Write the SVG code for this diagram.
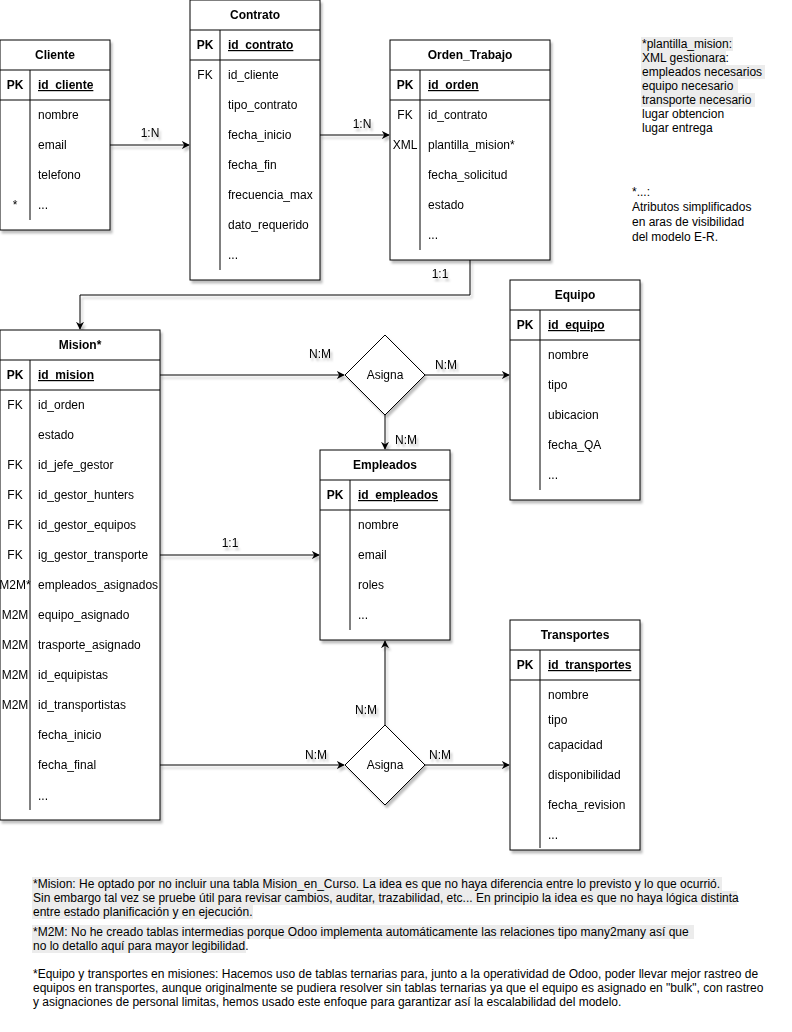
<svg xmlns="http://www.w3.org/2000/svg" width="792" height="1032" viewBox="0 0 792 1032">
<defs>
<filter id="sh" x="-10%" y="-10%" width="130%" height="130%">
<feDropShadow dx="2" dy="3" stdDeviation="1.2" flood-color="#000" flood-opacity="0.25"/>
</filter>
<marker id="arr" viewBox="0 0 10 10" refX="9" refY="5" markerWidth="8" markerHeight="8" markerUnits="userSpaceOnUse" orient="auto">
<path d="M0,0 L10,5 L0,10 L3,5 Z" fill="#000"/>
</marker>
</defs>
<style>
text{font-family:"Liberation Sans",Arial,sans-serif;font-size:12px;fill:#000}
.t{font-weight:bold;text-anchor:middle}
.k{text-anchor:middle}
.kb{text-anchor:middle;font-weight:bold}
.pk{font-weight:bold;text-decoration:underline}
.box{fill:#fff;stroke:#000;stroke-width:1}
.ln{stroke:#000;stroke-width:1;fill:none}
.c{stroke:#000;stroke-width:1;fill:none;marker-end:url(#arr)}
.lb{text-anchor:middle}
.hl{fill:#ececec}
</style>
<rect width="792" height="1032" fill="#fff"/>

<g id="connectors" filter="url(#sh)">
<path class="c" d="M110,145 H189"/>
<text class="lb" x="150" y="137">1:N</text>
<path class="c" d="M320,135 H389"/>
<text class="lb" x="362" y="128">1:N</text>
<path class="c" d="M470,260 V295 H80 V329"/>
<text class="lb" x="440" y="278">1:1</text>
<path class="c" d="M160,375 H344"/>
<text class="lb" x="320" y="358">N:M</text>
<path class="c" d="M425,375 H509"/>
<text class="lb" x="446" y="369">N:M</text>
<path class="c" d="M385,415 V449"/>
<text class="lb" x="406" y="444">N:M</text>
<path class="c" d="M160,555 H319"/>
<text class="lb" x="230" y="547">1:1</text>
<path class="c" d="M160,765 H344"/>
<text class="lb" x="316" y="759">N:M</text>
<path class="c" d="M425,765 H509"/>
<text class="lb" x="440" y="759">N:M</text>
<path class="c" d="M385,725 V641"/>
<text class="lb" x="366" y="714">N:M</text>
</g>

<g id="asigna1" filter="url(#sh)">
<path class="box" d="M385,335 L425,375 L385,415 L345,375 Z"/>
<text class="k" x="385" y="379">Asigna</text>
</g>
<g id="asigna2" filter="url(#sh)">
<path class="box" d="M385,725 L425,765 L385,805 L345,765 Z"/>
<text class="k" x="385" y="769">Asigna</text>
</g>

<g id="cliente" filter="url(#sh)">
<rect class="box" x="0" y="40" width="110" height="190"/>
<path class="ln" d="M0,70 H110 M0,100 H110 M30,70 V220"/>
<text class="t" x="55" y="59">Cliente</text>
<text class="kb" x="15" y="89">PK</text>
<text class="pk" x="38" y="89">id_cliente</text>
<text x="38" y="119">nombre</text>
<text x="38" y="149">email</text>
<text x="38" y="179">telefono</text>
<text class="k" x="15" y="209">*</text>
<text x="38" y="209">...</text>
</g>

<g id="contrato" filter="url(#sh)">
<rect class="box" x="190" y="0" width="130" height="280"/>
<path class="ln" d="M190,30 H320 M190,60 H320 M220,30 V270"/>
<text class="t" x="255" y="19">Contrato</text>
<text class="kb" x="205" y="49">PK</text>
<text class="pk" x="228" y="49">id_contrato</text>
<text class="k" x="205" y="79">FK</text>
<text x="228" y="79">id_cliente</text>
<text x="228" y="109">tipo_contrato</text>
<text x="228" y="139">fecha_inicio</text>
<text x="228" y="169">fecha_fin</text>
<text x="228" y="199">frecuencia_max</text>
<text x="228" y="229">dato_requerido</text>
<text x="228" y="259">...</text>
</g>

<g id="orden_trabajo" filter="url(#sh)">
<rect class="box" x="390" y="40" width="160" height="220"/>
<path class="ln" d="M390,70 H550 M390,100 H550 M420,70 V250"/>
<text class="t" x="470" y="59">Orden_Trabajo</text>
<text class="kb" x="405" y="89">PK</text>
<text class="pk" x="428" y="89">id_orden</text>
<text class="k" x="405" y="119">FK</text>
<text x="428" y="119">id_contrato</text>
<text class="k" x="405" y="149">XML</text>
<text x="428" y="149">plantilla_mision*</text>
<text x="428" y="179">fecha_solicitud</text>
<text x="428" y="209">estado</text>
<text x="428" y="239">...</text>
</g>

<g id="mision" filter="url(#sh)">
<rect class="box" x="0" y="330" width="160" height="490"/>
<path class="ln" d="M0,360 H160 M0,390 H160 M30,360 V810"/>
<text class="t" x="80" y="349">Mision*</text>
<text class="kb" x="15" y="379">PK</text>
<text class="pk" x="38" y="379">id_mision</text>
<text class="k" x="15" y="409">FK</text>
<text x="38" y="409">id_orden</text>
<text x="38" y="439">estado</text>
<text class="k" x="15" y="469">FK</text>
<text x="38" y="469">id_jefe_gestor</text>
<text class="k" x="15" y="499">FK</text>
<text x="38" y="499">id_gestor_hunters</text>
<text class="k" x="15" y="529">FK</text>
<text x="38" y="529">id_gestor_equipos</text>
<text class="k" x="15" y="559">FK</text>
<text x="38" y="559">ig_gestor_transporte</text>
<text class="k" x="15" y="589">M2M*</text>
<text x="38" y="589">empleados_asignados</text>
<text class="k" x="15" y="619">M2M</text>
<text x="38" y="619">equipo_asignado</text>
<text class="k" x="15" y="649">M2M</text>
<text x="38" y="649">trasporte_asignado</text>
<text class="k" x="15" y="679">M2M</text>
<text x="38" y="679">id_equipistas</text>
<text class="k" x="15" y="709">M2M</text>
<text x="38" y="709">id_transportistas</text>
<text x="38" y="739">fecha_inicio</text>
<text x="38" y="769">fecha_final</text>
<text x="38" y="800">...</text>
</g>

<g id="equipo" filter="url(#sh)">
<rect class="box" x="510" y="280" width="130" height="220"/>
<path class="ln" d="M510,310 H640 M510,340 H640 M540,310 V490"/>
<text class="t" x="575" y="299">Equipo</text>
<text class="kb" x="525" y="329">PK</text>
<text class="pk" x="548" y="329">id_equipo</text>
<text x="548" y="359">nombre</text>
<text x="548" y="389">tipo</text>
<text x="548" y="419">ubicacion</text>
<text x="548" y="449">fecha_QA</text>
<text x="548" y="479">...</text>
</g>

<g id="empleados" filter="url(#sh)">
<rect class="box" x="320" y="450" width="130" height="190"/>
<path class="ln" d="M320,480 H450 M320,510 H450 M350,480 V630"/>
<text class="t" x="385" y="469">Empleados</text>
<text class="kb" x="335" y="499">PK</text>
<text class="pk" x="358" y="499">id_empleados</text>
<text x="358" y="529">nombre</text>
<text x="358" y="559">email</text>
<text x="358" y="589">roles</text>
<text x="358" y="619">...</text>
</g>

<g id="transportes" filter="url(#sh)">
<rect class="box" x="510" y="620" width="130" height="230"/>
<path class="ln" d="M510,650 H640 M510,680 H640 M540,650 V848"/>
<text class="t" x="575" y="639">Transportes</text>
<text class="kb" x="525" y="669">PK</text>
<text class="pk" x="548" y="669">id_transportes</text>
<text x="548" y="699">nombre</text>
<text x="548" y="724">tipo</text>
<text x="548" y="749">capacidad</text>
<text x="548" y="779">disponibilidad</text>
<text x="548" y="809">fecha_revision</text>
<text x="548" y="839">...</text>
</g>

<g id="note_plantilla">
<rect class="hl" x="641" y="37" width="92" height="14"/>
<rect class="hl" x="641" y="51" width="85" height="14"/>
<rect class="hl" x="641" y="65" width="124" height="14"/>
<rect class="hl" x="641" y="79" width="97" height="14"/>
<rect class="hl" x="641" y="93" width="114" height="14"/>
<text x="642" y="48">*plantilla_mision:</text>
<text x="642" y="62">XML gestionara:</text>
<text x="642" y="76">empleados necesarios</text>
<text x="642" y="90">equipo necesario</text>
<text x="642" y="104">transporte necesario</text>
<text x="642" y="118">lugar obtencion</text>
<text x="642" y="132">lugar entrega</text>
</g>

<g id="note_atributos">
<text x="632" y="196">*...:</text>
<text x="632" y="211">Atributos simplificados</text>
<text x="632" y="226">en aras de visibilidad</text>
<text x="632" y="241">del modelo E-R.</text>
</g>

<g id="note_mision">
<rect class="hl" x="32" y="877" width="690" height="14"/>
<rect class="hl" x="32" y="891" width="705" height="14"/>
<rect class="hl" x="32" y="905" width="221" height="14"/>
<text x="33" y="888">*Mision: He optado por no incluir una tabla Mision_en_Curso. La idea es que no haya diferencia entre lo previsto y lo que ocurrió.</text>
<text x="33" y="902">Sin embargo tal vez se pruebe útil para revisar cambios, auditar, trazabilidad, etc... En principio la idea es que no haya lógica distinta</text>
<text x="33" y="916">entre estado planificación y en ejecución.</text>
</g>

<g id="note_m2m">
<rect class="hl" x="32" y="925" width="662" height="14"/>
<rect class="hl" x="32" y="939" width="214" height="14"/>
<text x="33" y="936">*M2M: No he creado tablas intermedias porque Odoo implementa automáticamente las relaciones tipo many2many así que</text>
<text x="33" y="950">no lo detallo aquí para mayor legibilidad.</text>
</g>

<g id="note_ternarias">
<text x="33" y="978">*Equipo y transportes en misiones: Hacemos uso de tablas ternarias para, junto a la operatividad de Odoo, poder llevar mejor rastreo de</text>
<text x="33" y="992">equipos en transportes, aunque originalmente se pudiera resolver sin tablas ternarias ya que el equipo es asignado en "bulk", con rastreo</text>
<text x="33" y="1006">y asignaciones de personal limitas, hemos usado este enfoque para garantizar así la escalabilidad del modelo.</text>
</g>
</svg>
